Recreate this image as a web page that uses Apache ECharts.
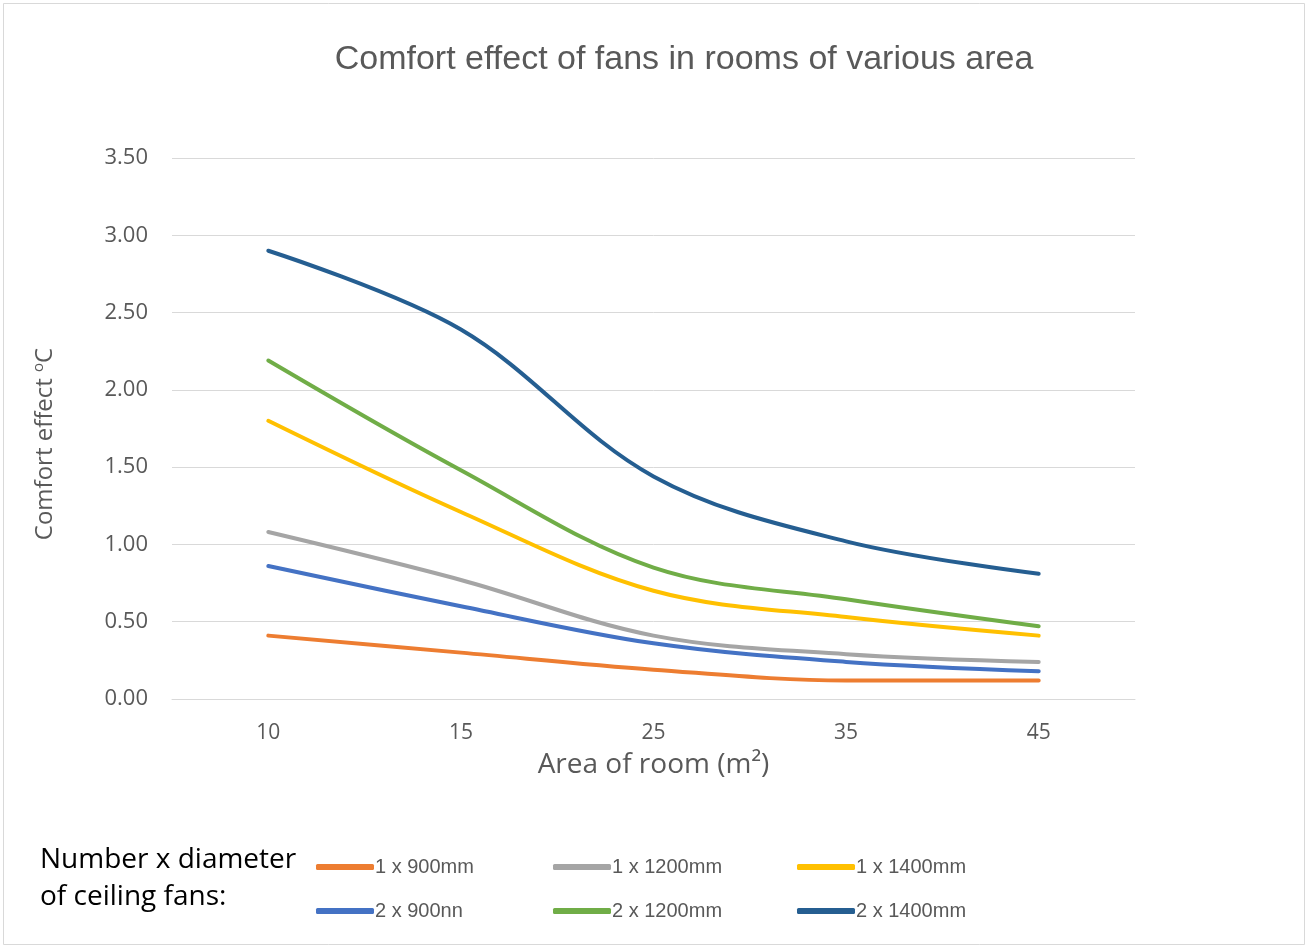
<!DOCTYPE html>
<html>
<head>
<meta charset="utf-8">
<script src="https://cdn.jsdelivr.net/npm/echarts@6/dist/echarts.min.js"></script>
<style>
  html, body { margin: 0; padding: 0; background: #fff; }
  #chart { width: 1309px; height: 949px; }
</style>
</head>
<body>
<div id="chart"></div>
<script>
// data
let areas = ['10', '15', '25', '35', '45'];
let names = ['1 x 900mm', '1 x 1200mm', '1 x 1400mm', '2 x 900nn', '2 x 1200mm', '2 x 1400mm'];
let fan1x900 = [0.41, 0.30, 0.19, 0.12, 0.12];
let fan1x1200 = [1.08, 0.77, 0.41, 0.29, 0.24];
let fan1x1400 = [1.80, 1.21, 0.70, 0.53, 0.41];
let fan2x900 = [0.86, 0.60, 0.36, 0.24, 0.18];
let fan2x1200 = [2.19, 1.48, 0.85, 0.645, 0.47];
let fan2x1400 = [2.90, 2.39, 1.44, 1.02, 0.81];
let colors = ['#ED7D31', '#A5A5A5', '#FFC000', '#4472C4', '#70AD47', '#255E91'];

let values = [fan1x900, fan1x1200, fan1x1400, fan2x900, fan2x1200, fan2x1400];

var dom = document.getElementById('chart');
var myChart = echarts.init(dom);

var font = '"Open Sans", sans-serif';
var legendPos = [[316, 857], [553, 857], [797, 857], [316, 901], [553, 901], [797, 901]];

// one legend per item so each sits where the original has it
let legends = names.map((n, i) => ({
    data: [n],
    left: legendPos[i][0],
    top: legendPos[i][1],
    padding: 0,
    itemWidth: 58,
    itemHeight: 6,
    itemGap: 2,
    icon: 'roundRect',
    textStyle: { fontFamily: '"Liberation Sans Narrow", sans-serif', fontSize: 20, color: '#595959', padding: [0, 0, 0, -4] }
}));

let series = names.map((n, i) => ({
    name: n,
    type: 'line',
    data: values[i],
    smooth: 0.35,
    showSymbol: false,
    symbol: 'none',
    lineStyle: { width: 4, color: colors[i], cap: 'round', join: 'round' },
    itemStyle: { color: colors[i] }
}));

var option = {
    animation: false,
    backgroundColor: '#fff',
    title: {
        text: 'Comfort effect of fans in rooms of various area',
        left: 679,
        top: 38,
        textAlign: 'center',
        textStyle: { fontFamily: '"Liberation Sans Narrow", sans-serif', fontSize: 34, fontWeight: 'normal', color: '#595959' }
    },
    legend: legends,
    grid: { left: 172, right: 174, top: 158, bottom: 250 },
    xAxis: {
        type: 'category',
        data: areas,
        boundaryGap: true,
        name: 'Area of room (m²)',
        nameLocation: 'middle',
        nameGap: 52,
        nameTextStyle: { fontFamily: font, fontSize: 28, color: '#595959' },
        axisLine: { show: true, lineStyle: { color: '#D9D9D9', width: 1 } },
        axisTick: { show: false },
        axisLabel: { fontFamily: font, fontSize: 21, color: '#595959', margin: 24 }
    },
    yAxis: {
        type: 'value',
        min: 0,
        max: 3.5,
        interval: 0.5,
        axisLine: { show: false },
        axisTick: { show: false },
        splitLine: { lineStyle: { color: '#D9D9D9', width: 1 } },
        axisLabel: { fontFamily: font, fontSize: 22, color: '#595959', margin: 24, formatter: v => v.toFixed(2) }
    },
    graphic: [
        {
            type: 'rect',
            shape: { x: 3.5, y: 3.5, width: 1301, height: 941 },
            style: { fill: 'none', stroke: '#D9D9D9', lineWidth: 1 },
            silent: true
        },
        {
            // y axis title, rotated
            type: 'text',
            x: 45,
            y: 444,
            rotation: Math.PI / 2,
            style: {
                text: 'Comfort effect {sup|o}C',
                fontFamily: font,
                fontSize: 24,
                fill: '#595959',
                align: 'center',
                verticalAlign: 'middle',
                rich: { sup: { fontFamily: font, fontSize: 15, fill: '#595959', verticalAlign: 'top', padding: [0, 0, 12, 0] } }
            }
        },
        {
            type: 'text',
            left: 40,
            top: 842,
            style: {
                text: 'Number x diameter\nof ceiling fans:',
                fontFamily: font,
                fontSize: 28,
                lineHeight: 37,
                fill: '#000'
            }
        }
    ],
    series: series
};

if (option && typeof option === 'object') {
    myChart.setOption(option);
}
</script>
</body>
</html>
